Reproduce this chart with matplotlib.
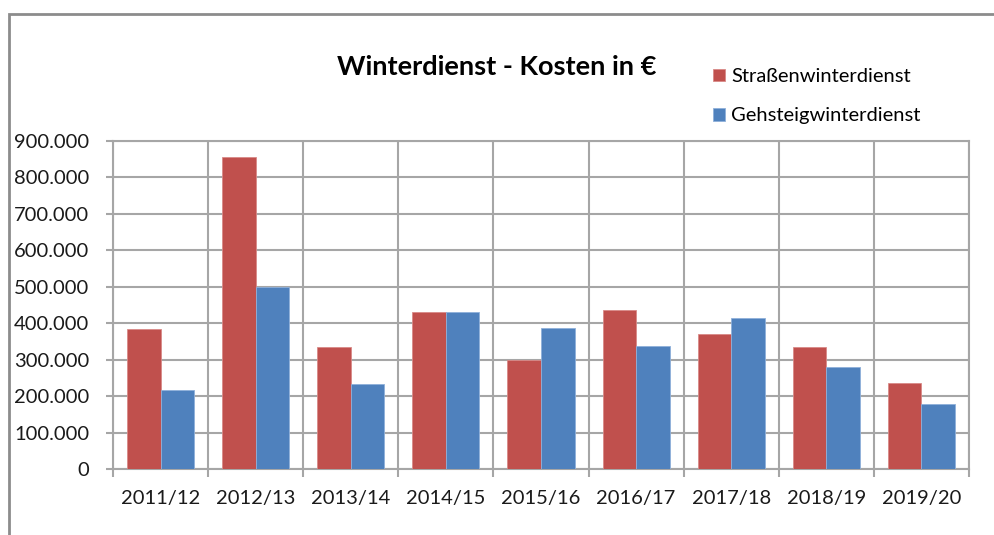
import numpy as np
import matplotlib.pyplot as plt
from matplotlib.ticker import FuncFormatter, FixedLocator
from matplotlib.patches import Rectangle

plt.rcParams['font.family'] = ['Lato', 'DejaVu Sans']

# Kosten pro Winter (in Euro)
saisons = ["2011/12", "2012/13", "2013/14", "2014/15", "2015/16",
           "2016/17", "2017/18", "2018/19", "2019/20"]
strasse = [384000, 856000, 334000, 432000, 299000, 435000, 370000, 334000, 235000]
gehsteig = [216000, 500000, 232000, 432000, 386000, 337000, 415000, 279000, 178000]

rot = "#C0504D"
blau = "#4F81BD"
gitter = "#A6A6A6"

fig = plt.figure(figsize=(9.95, 5.35), dpi=100)
fig.patch.set_facecolor("white")

# Rahmen um das Diagramm
fig.add_artist(Rectangle((9 / 995, -0.05), 1.0, 1 - 14 / 535 + 0.05,
                         transform=fig.transFigure, fill=False,
                         edgecolor="#8C8C8C", linewidth=2))

ax = fig.add_axes([113 / 995, 66 / 535, 856 / 995, 328 / 535])

x = np.arange(len(saisons))
b = 0.353
ax.bar(x - b / 2, strasse, b, color=rot, edgecolor="#D98A88", linewidth=0.6,
       label="Straßenwinterdienst", zorder=3)
ax.bar(x + b / 2, gehsteig, b, color=blau, edgecolor="#8FB0DA", linewidth=0.6,
       label="Gehsteigwinterdienst", zorder=3)

ax.set_xlim(-0.5, len(saisons) - 0.5)
ax.set_ylim(0, 900000)
ax.set_yticks(np.arange(0, 900001, 100000))
ax.yaxis.set_major_formatter(FuncFormatter(lambda v, p: f"{int(v):,}".replace(",", ".")))

ax.set_xticks(x)
ax.set_xticklabels(saisons)
ax.xaxis.set_minor_locator(FixedLocator(np.arange(-0.5, len(saisons), 1.0)))
ax.tick_params(axis="x", which="major", length=0, pad=15, labelsize=14.5, colors="#1a1a1a")
ax.tick_params(axis="x", which="minor", length=6, width=1.5, color=gitter)
ax.tick_params(axis="y", length=5, width=1.5, color=gitter, pad=12, labelsize=14.5,
               labelcolor="#1a1a1a")

ax.grid(axis="y", color=gitter, linewidth=1.5, zorder=0)
ax.grid(axis="x", which="minor", color=gitter, linewidth=1.5, zorder=0)
for s in ax.spines.values():
    s.set_color(gitter)
    s.set_linewidth(1.5)

fig.text(497 / 995, 1 - 67 / 535, "Winterdienst - Kosten in €", ha="center",
         va="center", fontsize=19.5, fontweight="bold")

leg = fig.legend(loc="upper left", bbox_to_anchor=(695 / 995, 1 - 50 / 535),
                 frameon=False, fontsize=14.5, handlelength=0.6, handleheight=0.6,
                 handletextpad=0.3, labelspacing=1.1)

fig.savefig("out.png", dpi=100)
